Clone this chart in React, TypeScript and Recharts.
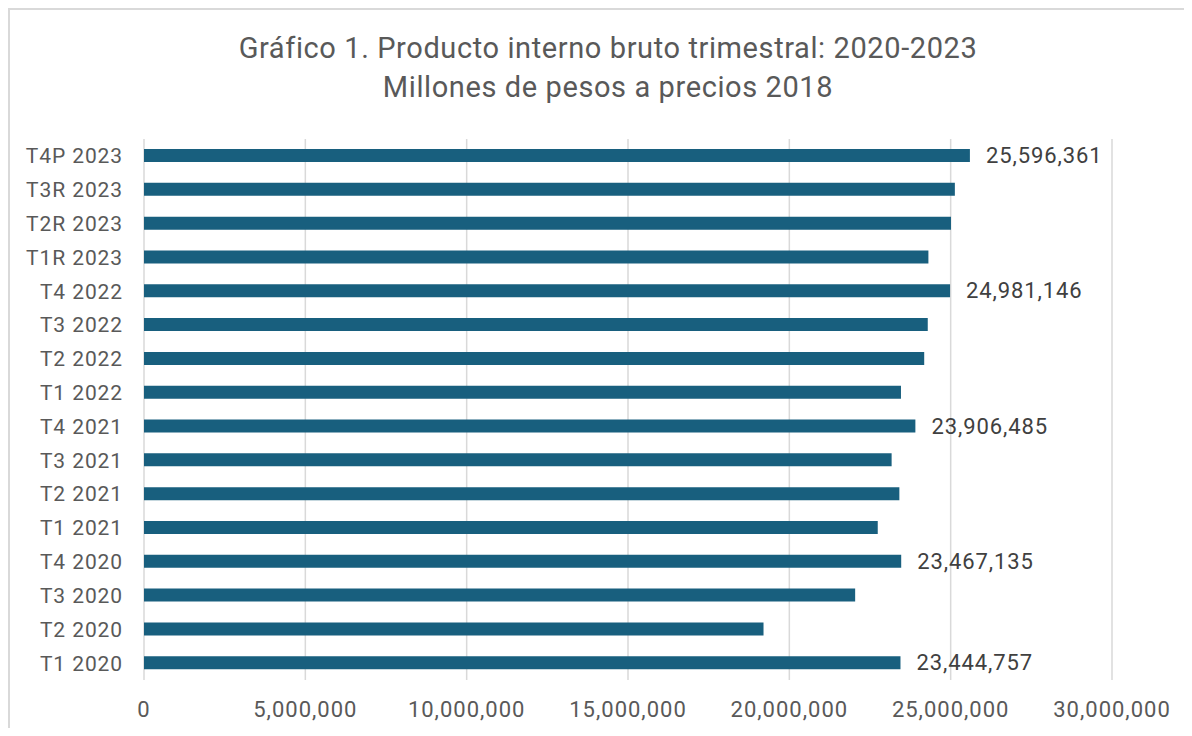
import React from "react";
import { Bar, BarChart, CartesianGrid, LabelList, XAxis, YAxis } from "recharts";

const quarters = [
  "T1 2020", "T2 2020", "T3 2020", "T4 2020",
  "T1 2021", "T2 2021", "T3 2021", "T4 2021",
  "T1 2022", "T2 2022", "T3 2022", "T4 2022",
  "T1R 2023", "T2R 2023", "T3R 2023", "T4P 2023",
];

const pib = [
  23444757, 19200000, 22040000, 23467135,
  22740000, 23410000, 23170000, 23906485,
  23460000, 24180000, 24290000, 24981146,
  24310000, 25010000, 25130000, 25596361,
];

// only these quarters carry a value label
const labeled = ["T1 2020", "T4 2020", "T4 2021", "T4 2022", "T4P 2023"];

const xTicks = [0, 5000000, 10000000, 15000000, 20000000, 25000000, 30000000];

const data = quarters.map((q, i) => ({ quarter: q, value: pib[i] }));

const fmt = (v: number) => v.toLocaleString("en-US");
const font = "Roboto, 'Noto Sans', sans-serif";

const ValueLabel = (props: any) => {
  const { x, y, width, height, value, index } = props;
  if (!labeled.includes(quarters[index])) return null;
  return (
    <text
      x={x + width + 16}
      y={y + height / 2}
      dominantBaseline="central"
      fontSize={22}
      letterSpacing={0.9}
      fontFamily={font}
      fill="#404040"
    >
      {fmt(value)}
    </text>
  );
};

export default function App() {
  return (
    <div
      style={{
        position: "relative",
        width: 1184,
        height: 720,
        borderTop: "2px solid #d9d9d9",
        borderLeft: "2px solid #d9d9d9",
        boxSizing: "border-box",
        background: "#fff",
        fontFamily: font,
      }}
    >
      <div
        style={{
          position: "absolute",
          top: 19,
          left: 0,
          width: 1196,
          textAlign: "center",
          color: "#595959",
          fontSize: 29,
          letterSpacing: 0.6,
          lineHeight: "39px",
        }}
      >
        Gráfico 1. Producto interno bruto trimestral: 2020-2023
        <br />
        Millones de pesos a precios 2018
      </div>
      <BarChart
        width={1182}
        height={718}
        data={data}
        layout="vertical"
        margin={{ top: 129, right: 80, bottom: 0, left: 0 }}
        barSize={13}
      >
        <CartesianGrid horizontal={false} stroke="#d9d9d9" strokeWidth={1.5} />
        <XAxis
          type="number"
          domain={[0, 30000000]}
          ticks={xTicks}
          tickFormatter={fmt}
          axisLine={false}
          tickLine={false}
          tickMargin={15}
          height={48}
          tick={{ fontSize: 22, fill: "#595959", fontFamily: font, letterSpacing: 1 }}
        />
        <YAxis
          type="category"
          dataKey="quarter"
          reversed
          width={134}
          axisLine={false}
          tickLine={false}
          tickMargin={15}
          tick={{ fontSize: 21, fill: "#595959", fontFamily: font, letterSpacing: 0.9 }}
        />
        <Bar dataKey="value" fill="#185F7E" isAnimationActive={false}>
          <LabelList dataKey="value" content={ValueLabel} />
        </Bar>
      </BarChart>
    </div>
  );
}
